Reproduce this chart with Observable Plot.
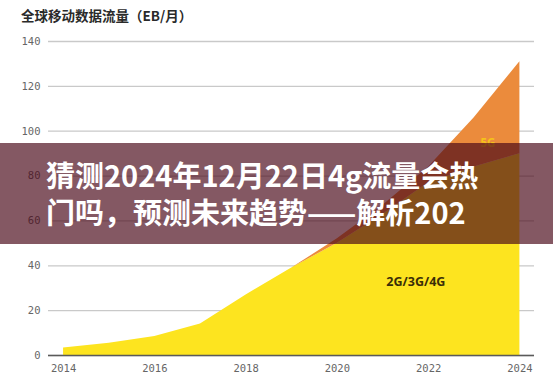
<!DOCTYPE html>
<html>
<head>
<meta charset="utf-8">
<script src="https://cdn.jsdelivr.net/npm/d3@7"></script>
<script src="https://cdn.jsdelivr.net/npm/@observablehq/plot@0.6"></script>
<style>
  html, body { margin: 0; padding: 0; background: #fff; }
  #wrap { position: relative; width: 553px; height: 388px; overflow: hidden; background: #fff; }
  #title { position: absolute; left: 21px; top: 0; height: 30px; line-height: 30px;
           font-family: "Noto Sans CJK SC", "Noto Sans", sans-serif; font-weight: 700;
           font-size: 13.5px; color: #2a2a2a; white-space: nowrap; }
  #chart { position: absolute; left: 0; top: 28px; }
  #banner { position: absolute; left: 0; top: 143px; width: 553px; height: 101px;
            background: rgba(73, 8, 23, 0.676); box-sizing: border-box;
            padding: 13px 0 0 46px;
            font-family: "Noto Sans CJK SC", sans-serif; font-weight: 700;
            font-size: 29px; line-height: 37px; color: #fff; white-space: nowrap; }
</style>
</head>
<body>
<div id="wrap">
  <div id="title"></div>
  <div id="chart"></div>
  <div id="banner"></div>
</div>
<script>
const titleText = "全球移动数据流量（EB/月）";
const bannerLines = ["猜测2024年12月22日4g流量会热", "门吗，预测未来趋势——解析202"];
const years = [2014, 2015, 2016, 2017, 2018, 2019, 2020, 2021, 2022, 2023, 2024];
const legacyTraffic = [3.3, 5.5, 8.5, 14, 27, 39, 50, 63, 77, 84, 90];
const fiveGTraffic = [0, 0, 0, 0, 0, 0, 2, 4, 7, 22, 41];
const seriesNames = ["2G/3G/4G", "5G"];
const yTicks = [0, 20, 40, 60, 80, 100, 120, 140];
const xTicks = [2014, 2016, 2018, 2020, 2022, 2024];

document.getElementById("title").textContent = titleText;
document.getElementById("banner").innerHTML = bannerLines.map(s => `<div>${s}</div>`).join("");

const rows = years.flatMap((yr, i) => [
  {year: yr, series: seriesNames[0], value: legacyTraffic[i]},
  {year: yr, series: seriesNames[1], value: fiveGTraffic[i]}
]);

const chart = Plot.plot({
  width: 553,
  height: 360,
  marginTop: 13,
  marginBottom: 33,
  marginLeft: 48,
  marginRight: 19,
  style: {background: "transparent", fontFamily: "'DejaVu Sans Mono', monospace", fontSize: "10.5px", color: "#666"},
  x: {domain: [2013.67, 2024.32], label: null},
  y: {domain: [0, 140], label: null},
  color: {domain: seriesNames, range: ["#fde41f", "#eb8b3c"]},
  marks: [
    Plot.gridY(yTicks, {stroke: "#c9c9c9", strokeOpacity: 1, strokeWidth: 1.3}),
    Plot.areaY(rows, {x: "year", y: "value", fill: "series"}),
    Plot.ruleY([0], {stroke: "#5a5a5a", strokeWidth: 1.6}),
    Plot.axisX(xTicks, {tickSize: 0, tickPadding: 9, tickFormat: d => String(d), label: null}),
    Plot.axisY(yTicks, {tickSize: 0, tickPadding: 8, label: null}),
    Plot.text([seriesNames[0]], {x: () => 2021.72, y: () => 32.6, fill: "#3a2e08",
      fontFamily: "'Noto Sans', sans-serif", fontWeight: 700, fontSize: 12.5}),
    Plot.text([seriesNames[1]], {x: () => 2023.3, y: () => 94.6, fill: "#f5c21a",
      fontFamily: "'Noto Sans', sans-serif", fontWeight: 700, fontSize: 11.5})
  ]
});
document.getElementById("chart").appendChild(chart);
</script>
</body>
</html>
